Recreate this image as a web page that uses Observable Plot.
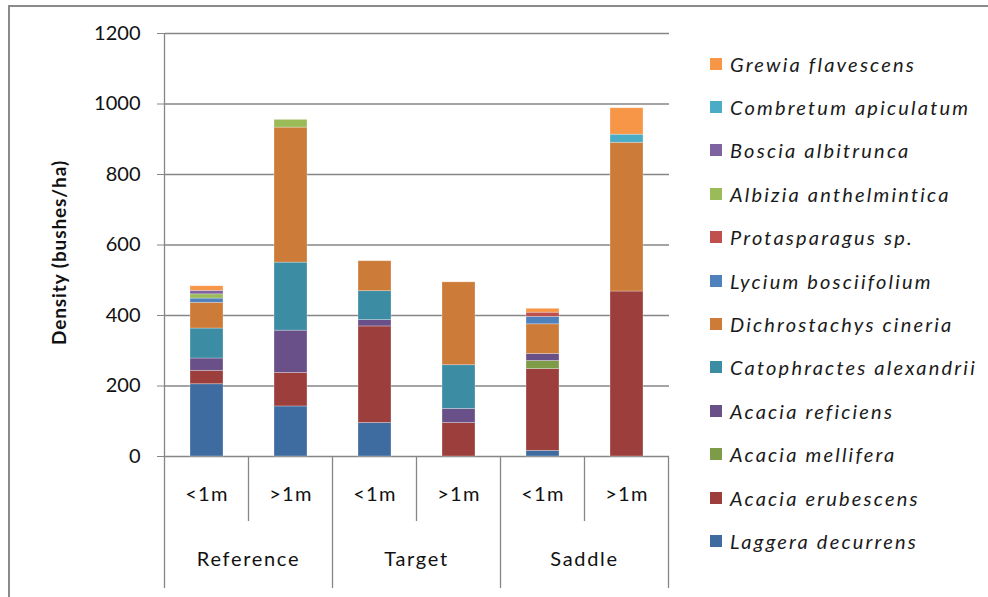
<!DOCTYPE html>
<html>
<head>
<meta charset="utf-8">
<script src="https://cdn.jsdelivr.net/npm/d3@7"></script>
<script src="https://cdn.jsdelivr.net/npm/@observablehq/plot@0.6"></script>
<style>
  html, body { margin: 0; padding: 0; background: #fff; }
  #wrap { position: relative; width: 988px; height: 597px; overflow: hidden; font-family: Lato, "Open Sans", sans-serif; }
  #frame { position: absolute; left: 8px; top: 5px; width: 1200px; height: 800px; border-top: 2px solid #8a8a8a; border-left: 2px solid #8a8a8a; }
  #chart { position: absolute; left: 0; top: 0; }
  #legend { position: absolute; left: 710px; top: 42px; }
  .item { display: flex; align-items: center; height: 43.4px; }
  .sw { width: 12px; height: 12px; margin-right: 8px; }
  .lab { font-style: italic; font-size: 20px; letter-spacing: 2.2px; color: #1a1a1a; white-space: nowrap; }
  #chart svg g[aria-label="x-axis tick label"] text { letter-spacing: 1.3px; }
</style>
</head>
<body>
<div id="wrap">
  <div id="frame"></div>
  <div id="chart"></div>
  <div id="legend"></div>
</div>
<script>
// ---- data ----
const groups = ["Reference", "Target", "Saddle"];
const sizes = ["<1m", ">1m"];
const yTicks = [0, 200, 400, 600, 800, 1000, 1200];
const yLabel = "Density (bushes/ha)";

// species from bottom of stack to top
const species = [
  "Laggera decurrens", "Acacia erubescens", "Acacia mellifera", "Acacia reficiens",
  "Catophractes alexandrii", "Dichrostachys cineria", "Lycium bosciifolium",
  "Protasparagus sp.", "Albizia anthelmintica", "Boscia albitrunca",
  "Combretum apiculatum", "Grewia flavescens"
];
const colors = [
  "#3f6ca0", "#9c3f3c", "#7e9b48", "#6a5088",
  "#3c8ca3", "#cc7b38", "#4f81bd",
  "#c0504d", "#9bbb59", "#7f63a1",
  "#4bacc6", "#f79646"
];
// values per bar: Reference <1m, Reference >1m, Target <1m, Target >1m, Saddle <1m, Saddle >1m
const laggera        = [205, 142,  95,   0,  16,   0];
const erubescens     = [ 38,  95, 274,  95, 232, 468];
const mellifera      = [  0,   0,   0,   0,  23,   0];
const reficiens      = [ 35, 120,  18,  40,  20,   0];
const catophractes   = [ 85, 193,  82, 124,   0,   0];
const dichrostachys  = [ 73, 383,  85, 235,  84, 422];
const lycium         = [ 12,   0,   0,   0,  21,   0];
const protasparagus  = [  0,   0,   0,   0,  12,   0];
const albizia        = [ 12,  22,   0,   0,   0,   0];
const boscia         = [ 10,   0,   0,   0,   0,   0];
const combretum      = [  0,   0,   0,   0,   0,  23];
const grewia         = [ 13,   0,   0,   0,  11,  75];
const seriesValues = [laggera, erubescens, mellifera, reficiens, catophractes, dichrostachys,
  lycium, protasparagus, albizia, boscia, combretum, grewia];

// ---- build table ----
const keys = [];
groups.forEach(g => sizes.forEach(s => keys.push(g + " " + s)));
const rows = [];
species.forEach((sp, i) => {
  seriesValues[i].forEach((v, j) => {
    rows.push({species: sp, key: keys[j], value: v});
  });
});

const FONT = "Lato, 'Open Sans', sans-serif";
const chart = Plot.plot({
  width: 988,
  height: 597,
  marginLeft: 165,
  marginRight: 319,
  marginTop: 33,
  marginBottom: 141,
  style: {fontFamily: FONT, background: "transparent", overflow: "visible"},
  x: {domain: keys, paddingInner: 0.607, paddingOuter: 0.3035, axis: null},
  y: {domain: [0, 1200], label: null},
  color: {domain: species, range: colors},
  marks: [
    Plot.gridY(yTicks, {stroke: "#868686", strokeOpacity: 1, strokeWidth: 1.3}),
    Plot.axisY(yTicks, {tickSize: 8, tickPadding: 17, fontSize: 20, stroke: "#868686", fill: "#111", label: null, tickFormat: d => String(d)}),
    Plot.barY(rows, Plot.stackY({x: "key", y: "value", fill: "species", order: null, stroke: "#ffffff", strokeOpacity: 0.35, strokeWidth: 0.8})),
    Plot.axisX({tickSize: 0, tickPadding: 30, fontSize: 20, fill: "#111", label: null, tickFormat: d => d.split(" ")[1]})
  ]
});
document.getElementById("chart").appendChild(chart);

// hierarchical axis dividers, group labels and y label, placed with Plot's own scales
const sx = chart.scale("x"), sy = chart.scale("y");
const step = sx.step, bw = sx.bandwidth;
const edge = k => sx.apply(k) - (step - bw) / 2;
const y0 = sy.apply(0), yTop = sy.apply(1200);
const svg = d3.select(chart);
const g = svg.append("g").attr("stroke", "#868686").attr("stroke-width", 1.3);
const subLen = 65, grpLen = 132;
g.append("line").attr("x1", edge(keys[0])).attr("x2", edge(keys[0])).attr("y1", yTop).attr("y2", y0 + grpLen);
groups.forEach((grp, i) => {
  const kA = grp + " " + sizes[0], kB = grp + " " + sizes[1];
  if (i > 0) g.append("line").attr("x1", edge(kA)).attr("x2", edge(kA)).attr("y1", y0).attr("y2", y0 + grpLen);
  g.append("line").attr("x1", edge(kB)).attr("x2", edge(kB)).attr("y1", y0).attr("y2", y0 + subLen);
  const cx = (sx.apply(kA) + sx.apply(kB) + bw) / 2;
  svg.append("text").attr("x", cx).attr("y", y0 + 102).attr("text-anchor", "middle").attr("dominant-baseline", "central")
    .attr("font-size", 20).attr("letter-spacing", "1.7px").attr("font-family", FONT).attr("fill", "#111").text(grp);
});
const last = keys[keys.length - 1];
g.append("line").attr("x1", edge(last) + step).attr("x2", edge(last) + step).attr("y1", y0).attr("y2", y0 + grpLen);
svg.append("text").attr("transform", `translate(58,${(y0 + yTop) / 2 + 8}) rotate(-90)`)
  .attr("text-anchor", "middle").attr("dominant-baseline", "central")
  .attr("font-size", 19).attr("letter-spacing", "0.9px").attr("font-weight", "bold").attr("font-family", FONT).attr("fill", "#111").text(yLabel);

// legend (top entry = top of stack)
const cs = chart.scale("color");
const legend = d3.select("#legend");
species.slice().reverse().forEach(sp => {
  const it = legend.append("div").attr("class", "item");
  it.append("div").attr("class", "sw").style("background", cs.apply(sp));
  it.append("div").attr("class", "lab").text(sp);
});
</script>
</body>
</html>
